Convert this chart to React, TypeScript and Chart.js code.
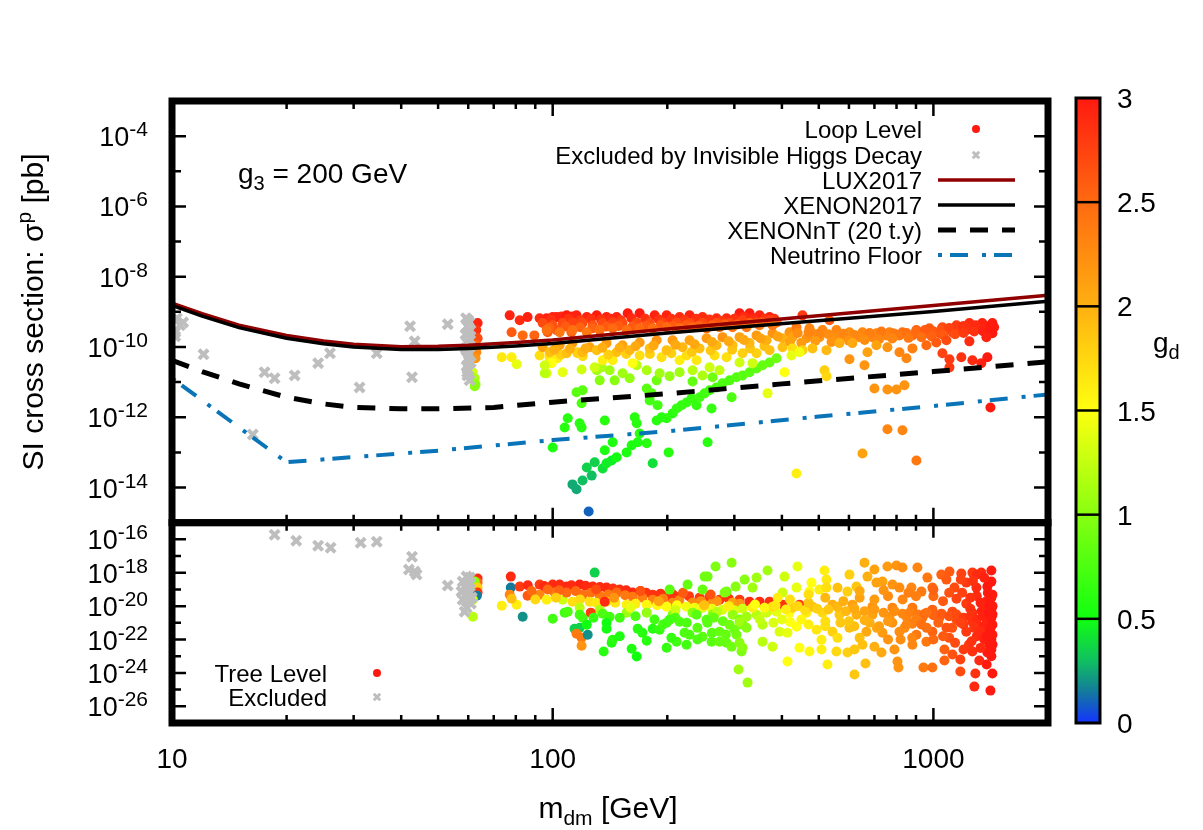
import React, { useEffect, useRef } from 'react';
import { Chart, registerables } from 'chart.js';

Chart.register(...registerables);

const FONT = '"Liberation Sans", Arial, Helvetica, sans-serif';

// ---- axes ----
const massRange = [10, 2000];
const loopExpRange = [-15, -3]; // log10(sigma / pb), upper panel
const treeExpRange = [-27, -15]; // lower panel
const massLabels = [10, 100, 1000];
const massMinor = [20, 30, 40, 50, 60, 70, 80, 90, 200, 300, 400, 500, 600, 700, 800, 900, 2000];
const loopExpLabels = [-14, -12, -10, -8, -6, -4];
const treeExpLabels = [-26, -24, -22, -20, -18, -16];
const gdLabels = [0, 0.5, 1, 1.5, 2, 2.5, 3];

// ---- experimental limits: [mass GeV, log10 sigma] ----
const lux2017 = [
  [10, -8.75], [12, -9.05], [15, -9.38], [20, -9.67], [25, -9.83], [30, -9.92], [40, -9.99],
  [50, -9.98], [60, -9.95], [80, -9.87], [100, -9.8], [200, -9.49], [420, -9.18], [1000, -8.82], [2000, -8.53],
];
const xenon2017 = [
  [10, -8.82], [12, -9.12], [15, -9.45], [20, -9.75], [25, -9.91], [30, -10.0], [40, -10.07],
  [50, -10.07], [60, -10.04], [80, -9.97], [100, -9.9], [200, -9.6], [420, -9.32], [1000, -8.99], [2000, -8.7],
];
const xenonNT = [
  [10, -10.38], [12, -10.7], [15, -11.05], [20, -11.43], [25, -11.62], [30, -11.72], [40, -11.76],
  [50, -11.76], [70, -11.72], [100, -11.57], [200, -11.33], [400, -11.05], [1000, -10.7], [2000, -10.42],
];
const neutrinoFloor = [
  [10, -10.89], [20, -13.28], [50, -12.95], [100, -12.65], [200, -12.4], [500, -11.98], [1000, -11.68], [2000, -11.35],
];

// ---- loop level scan: [mass GeV, log10 sigma, g_d] ----
const loopLevel = [
  [63.5, -9.32, 2.95], [63.0, -9.52, 2.85], [63.5, -9.75, 2.7], [63.0, -9.95, 2.5], [63.0, -10.15, 2.3], [62.7, -10.32, 2.2],
  [61.6, -10.72, 1.3], [62.4, -10.89, 1.15], [62.7, -11.06, 1.05], [62.4, -11.12, 1.0],
  [77.1, -9.10, 2.95], [81.9, -9.24, 2.9], [85.9, -9.15, 2.95], [92.4, -9.18, 2.9], [100, -9.15, 2.95], [105.5, -9.13, 2.9], [112.7, -9.13, 2.95],
  [78.0, -9.58, 2.6], [83.4, -9.67, 2.5], [89.5, -9.67, 2.55], [97.0, -9.58, 2.6], [102.4, -9.52, 2.6], [112.0, -9.58, 2.55],
  [73.5, -10.29, 1.65], [78.0, -10.29, 1.6], [80.4, -10.49, 1.4], [92.4, -10.24, 1.7], [98.2, -10.29, 1.65], [103.0, -10.32, 1.6],
  [96.4, -10.75, 1.35], [106.2, -10.72, 1.4], [116.2, -10.18, 1.75], [99.4, -10.46, 1.5], [95.3, -10.75, 1.2], [115.5, -11.29, 0.8],
  // low branch
  [124.3, -14.68, 0.1], [112.7, -13.91, 0.25], [115.5, -14.05, 0.25], [119.8, -13.8, 0.3], [126.6, -13.66, 0.3], [128.9, -13.28, 0.35],
  [122.9, -13.43, 0.35], [135.3, -13.46, 0.4], [138.5, -13.31, 0.45], [142.8, -13.23, 0.45], [147.2, -13.14, 0.5], [137.0, -12.94, 0.55],
  [143.7, -12.71, 0.55], [156.4, -13.0, 0.55], [161.2, -12.8, 0.55], [167.2, -12.71, 0.55], [176.6, -12.74, 0.6], [169.2, -12.46, 0.6],
  [166.2, -12.17, 0.6], [164.2, -12.0, 0.6], [183.1, -13.31, 0.4], [201.6, -13.0, 0.6], [255.2, -12.71, 0.6], [100, -12.86, 0.55],
  [137.0, -12.09, 0.6], [117.7, -12.17, 0.6], [119.1, -12.29, 0.6], [107.5, -12.29, 0.6], [109.5, -12.03, 0.6], [119.1, -11.6, 0.75],
  [119.8, -11.23, 0.8], [187.5, -12.09, 0.6], [193.2, -12.0, 0.6], [199.2, -12.03, 0.62], [206.5, -11.89, 0.62], [211.6, -11.75, 0.65],
  [218.0, -11.66, 0.65], [224.7, -11.58, 0.65], [231.6, -11.46, 0.68], [238.7, -11.66, 0.65], [243.1, -11.43, 0.7], [250.6, -11.32, 0.7],
  [261.4, -11.75, 0.65], [258.3, -11.23, 0.72], [269.4, -11.15, 0.72], [279.3, -11.03, 0.75], [291.5, -10.95, 0.75], [304.0, -10.86, 0.78],
  [315.3, -10.81, 0.8], [328.9, -10.72, 0.8], [343.1, -10.61, 0.82], [355.8, -10.52, 0.85], [371.2, -10.44, 0.85], [387.2, -10.32, 0.9],
  [295.1, -11.43, 0.75], [233.0, -10.98, 0.85], [263.0, -10.86, 0.9], [179.8, -11.52, 0.7], [188.6, -11.66, 0.7], [176.6, -11.18, 0.8],
  [182.0, -11.32, 0.8], [187.5, -10.95, 0.9],
  // yellow-green
  [145.4, -10.95, 1.0], [132.9, -10.95, 1.0], [130.5, -10.66, 1.1], [134.5, -10.58, 1.15], [141.1, -10.66, 1.1], [152.6, -10.75, 1.1],
  [159.3, -10.89, 1.05], [166.2, -10.52, 1.2], [176.6, -10.66, 1.15], [190.9, -10.75, 1.1], [202.8, -10.83, 1.05], [215.4, -10.72, 1.1],
  [233.0, -10.66, 1.2], [247.5, -10.81, 1.15], [258.3, -10.58, 1.3], [274.3, -10.66, 1.25], [309.6, -10.44, 1.3], [334.9, -10.46, 1.3],
  [366.7, -11.32, 1.4], [406.4, -10.72, 1.5], [95.3, -10.52, 1.3], [119.1, -10.64, 1.3], [128.9, -10.58, 1.3],
  // yellow
  [116.2, -10.15, 1.8], [135.3, -10.38, 1.6], [143.7, -10.38, 1.6], [162.2, -10.46, 1.5], [169.2, -10.24, 1.7], [193.2, -10.29, 1.7],
  [215.4, -10.38, 1.6], [224.7, -10.24, 1.7], [238.7, -10.38, 1.65], [266.2, -10.24, 1.7], [286.2, -10.29, 1.7], [315.3, -10.18, 1.8],
  [343.1, -10.18, 1.8], [371.2, -10.09, 1.9], [401.5, -10.01, 1.9],
  [105, -10.22, 1.8], [120, -10.26, 1.75], [140, -10.22, 1.8], [156, -10.2, 1.8], [180, -10.2, 1.8], [205, -10.18, 1.8],
  [232, -10.14, 1.85], [260, -10.1, 1.85], [296, -10.08, 1.85], [330, -10.04, 1.85], [360, -9.98, 1.9],
  // orange, below the limit lines
  [94.1, -10.01, 2.1], [104.3, -9.95, 2.1], [112.7, -9.89, 2.15], [125.1, -10.01, 2.1], [138.5, -9.89, 2.15], [152.6, -9.95, 2.1],
  [169.2, -9.87, 2.15], [187.5, -9.81, 2.2], [206.5, -9.81, 2.15], [228.8, -9.81, 2.1], [253.6, -9.75, 2.15], [279.3, -9.72, 2.2],
  [309.6, -9.72, 2.1], [343.1, -9.67, 2.15], [378.0, -9.61, 2.2], [418.8, -9.58, 2.2],
  [98.2, -10.15, 1.9], [108.8, -10.18, 1.9], [119.8, -10.15, 1.95], [130.5, -10.09, 1.9], [147.2, -10.15, 1.9], [159.3, -10.09, 1.95],
  [179.8, -10.04, 1.9], [199.2, -10.09, 1.9], [219.3, -10.01, 1.95], [243.1, -10.04, 1.9], [269.4, -9.95, 1.95], [296.8, -9.95, 1.9],
  [328.9, -9.89, 1.95], [364.5, -9.81, 2.0], [401.5, -9.75, 2.0],
  [101, -10.08, 2.0], [111, -10.06, 2.0], [122, -10.04, 2.0], [135, -10.02, 2.0], [150, -10.02, 2.0], [165, -9.98, 2.05],
  [184, -9.96, 2.05], [210, -9.94, 2.05], [236, -9.92, 2.05], [262, -9.86, 2.05], [290, -9.84, 2.05], [318, -9.8, 2.05],
  [352, -9.76, 2.1], [390, -9.7, 2.1],
  // red band, above the limit lines
  [96.4, -9.18, 2.95], [102.4, -9.15, 2.95], [108.8, -9.1, 3.0], [115.5, -9.1, 2.95], [122.9, -9.15, 2.95], [130.5, -9.1, 3.0],
  [138.5, -9.15, 2.95], [147.2, -9.15, 2.95], [157.4, -9.04, 3.0], [169.2, -9.04, 3.0], [185.3, -9.1, 2.95], [199.2, -9.1, 2.95],
  [215.4, -9.15, 2.9], [228.8, -9.1, 2.95], [247.5, -9.15, 2.9], [269.4, -9.18, 2.9], [286.2, -9.18, 2.9], [309.6, -9.04, 3.0],
  [328.9, -9.04, 3.0], [349.4, -9.1, 2.95], [371.2, -9.15, 2.95],
  [99, -9.22, 2.85], [110, -9.2, 2.85], [118, -9.24, 2.8], [126, -9.2, 2.85], [134, -9.22, 2.85], [142, -9.2, 2.9],
  [151, -9.24, 2.8], [161, -9.18, 2.9], [175, -9.2, 2.85], [190, -9.22, 2.85], [205, -9.2, 2.85], [222, -9.24, 2.8],
  [238, -9.2, 2.85], [258, -9.22, 2.85], [278, -9.26, 2.8], [300, -9.2, 2.85], [318, -9.14, 2.9], [336, -9.18, 2.9],
  [360, -9.2, 2.85], [382, -9.2, 2.85],
  [94.1, -9.32, 2.7], [100, -9.38, 2.65], [106.2, -9.32, 2.7], [112.7, -9.3, 2.75], [119.8, -9.32, 2.7], [127.4, -9.38, 2.65],
  [135.3, -9.32, 2.7], [143.7, -9.3, 2.75], [152.6, -9.32, 2.7], [166.2, -9.3, 2.7], [179.8, -9.32, 2.7], [194.4, -9.3, 2.75],
  [211.6, -9.3, 2.7], [228.8, -9.32, 2.7], [247.5, -9.32, 2.7], [269.4, -9.32, 2.65], [291.5, -9.32, 2.7], [315.3, -9.24, 2.75],
  [343.1, -9.3, 2.7], [371.2, -9.24, 2.75],
  [98, -9.45, 2.55], [108, -9.42, 2.6], [118, -9.44, 2.55], [127, -9.47, 2.55], [138, -9.42, 2.6], [149, -9.4, 2.6],
  [162, -9.42, 2.6], [176, -9.4, 2.6], [192, -9.38, 2.6], [207, -9.4, 2.6], [224, -9.38, 2.6], [242, -9.4, 2.55],
  [262, -9.38, 2.55], [283, -9.36, 2.55], [305, -9.36, 2.55], [330, -9.32, 2.55], [356, -9.3, 2.55], [388, -9.3, 2.5],
  [96.4, -9.52, 2.45], [104.3, -9.58, 2.4], [112.7, -9.52, 2.45], [122.9, -9.58, 2.4], [132.9, -9.52, 2.45], [143.7, -9.47, 2.5],
  [156.4, -9.52, 2.45], [169.2, -9.47, 2.5], [183.1, -9.47, 2.45], [199.2, -9.44, 2.5], [215.4, -9.47, 2.45], [233.0, -9.44, 2.5],
  [253.6, -9.47, 2.45], [274.3, -9.44, 2.45], [296.8, -9.44, 2.4], [323.0, -9.44, 2.4], [349.4, -9.38, 2.4], [378.0, -9.38, 2.4],
  [436.9, -13.6, 1.6],
  // heavy masses
  [453.0, -9.1, 2.8], [533.3, -9.24, 2.6], [436.9, -9.44, 2.4], [472.6, -9.47, 2.3], [511.3, -9.52, 2.3], [556.3, -9.52, 2.3],
  [601.9, -9.58, 2.25], [651.2, -9.58, 2.3], [708.5, -9.61, 2.3], [766.5, -9.58, 2.35], [829.3, -9.58, 2.45], [902.4, -9.52, 2.55],
  [976.1, -9.47, 2.6], [1056, -9.44, 2.7], [1150, -9.38, 2.8], [1243, -9.32, 2.9], [1344, -9.32, 2.95], [1429, -9.32, 3.0],
  [426.5, -9.72, 2.1], [464.1, -9.75, 2.2], [502.1, -9.72, 2.2], [543.1, -9.75, 2.2], [591.1, -9.72, 2.2], [639.5, -9.72, 2.25],
  [691.6, -9.72, 2.3], [752.7, -9.67, 2.3], [814.4, -9.67, 2.4], [880.8, -9.67, 2.5], [958.5, -9.61, 2.55], [1037, -9.61, 2.65],
  [1122, -9.58, 2.75], [1220, -9.52, 2.85], [1320, -9.47, 2.9], [1403, -9.52, 2.95], [1429, -9.61, 3.0],
  [481.2, -9.61, 2.25], [566.7, -9.67, 2.25], [667.0, -9.67, 2.3], [780.5, -9.61, 2.35], [919.0, -9.58, 2.5], [1082, -9.52, 2.65],
  [1266, -9.44, 2.85], [1444, -9.44, 3.0],
  [440, -9.6, 2.25], [470, -9.58, 2.3], [500, -9.62, 2.3], [530, -9.64, 2.25], [580, -9.62, 2.3], [620, -9.66, 2.3],
  [680, -9.6, 2.35], [730, -9.56, 2.4], [790, -9.62, 2.4], [850, -9.6, 2.45], [900, -9.56, 2.5], [950, -9.52, 2.6],
  [1000, -9.55, 2.6], [1050, -9.5, 2.65], [1100, -9.46, 2.75], [1160, -9.48, 2.8], [1200, -9.4, 2.85], [1290, -9.38, 2.9],
  [1370, -9.4, 2.95], [1420, -9.38, 3.0],
  [420, -9.85, 2.1], [450, -9.88, 2.15], [490, -9.82, 2.15], [540, -9.86, 2.2], [600, -9.82, 2.2], [660, -9.8, 2.25],
  [720, -9.78, 2.3], [780, -9.76, 2.3], [860, -9.74, 2.4], [930, -9.72, 2.45], [990, -9.7, 2.55], [1060, -9.66, 2.6],
  [1140, -9.64, 2.7], [1200, -9.6, 2.8], [1280, -9.56, 2.85], [1350, -9.55, 2.95], [1410, -9.5, 3.0],
  [426.5, -10.04, 1.7], [453.0, -10.09, 1.8], [481.2, -10.04, 1.9], [523.8, -10.09, 1.95], [566.7, -9.89, 2.0], [612.9, -9.89, 2.05],
  [671.1, -10.15, 2.1], [708.5, -9.95, 2.1], [757.3, -10.01, 2.2], [814.4, -10.15, 2.3], [849.6, -10.32, 2.3], [880.8, -10.04, 2.35],
  [958.5, -9.95, 2.5], [1018, -9.87, 2.6], [1082, -9.81, 2.7], [1056, -10.18, 2.75], [1102, -10.35, 2.8], [1184, -10.29, 2.85],
  [1243, -9.84, 2.9], [1266, -10.38, 2.9], [1336, -10.46, 2.95], [1378, -9.72, 2.95], [1386, -10.29, 3.0], [1102, -10.58, 2.8],
  [601.9, -10.35, 2.2], [659.1, -10.52, 2.2], [517.5, -10.66, 1.8], [523.8, -10.83, 1.75], [700.0, -11.18, 2.2], [757.3, -11.21, 2.2],
  [799.8, -11.21, 2.2], [839.4, -11.09, 2.2], [757.3, -12.34, 2.3], [829.3, -12.37, 2.3], [651.2, -13.03, 2.1], [902.4, -13.23, 2.4],
  [1412, -11.72, 3.0], [423.9, -10.24, 1.4], [444.9, -10.15, 1.45],
];

// ---- points excluded by invisible Higgs decay (upper panel): [mass, log10 sigma] ----
const loopExcluded = [
  [10.3, -9.18], [10.5, -9.38], [10.2, -9.58], [10.7, -9.3], [10.2, -9.7], [12.1, -10.21], [16.3, -12.49], [17.5, -10.72],
  [18.6, -10.89], [21.0, -10.81], [24.2, -10.46], [26.0, -10.18], [31.1, -11.15], [34.5, -10.18], [42.2, -9.41], [43.4, -9.84],
  [42.7, -10.86], [53.0, -9.35],
  [59.2, -9.18], [60.4, -9.3], [59.6, -9.41], [60.8, -9.52], [59.0, -9.64], [60.2, -9.75], [59.5, -9.87], [60.6, -9.98],
  [59.3, -10.09], [60.3, -10.21], [59.8, -10.32], [60.9, -10.44], [59.4, -10.55], [60.1, -10.66], [59.7, -10.81], [60.5, -10.95],
  [60.0, -9.24], [59.9, -9.58], [60.7, -9.81], [59.1, -10.04], [60.2, -10.38], [59.6, -10.72],
];

// ---- tree level scan (lower panel): [mass GeV, log10 sigma, g_d] ----
const treeLevel = [
  [63.5, -18.35, 2.9], [63.5, -18.59, 2.5], [62.4, -18.53, 1.0], [63.5, -18.89, 1.8], [63.5, -19.19, 2.8], [63.2, -19.37, 0.15],
  [61.7, -19.61, 1.3], [61.7, -20.63, 1.2],
  [77.6, -18.23, 2.9], [77.6, -18.89, 0.15], [73.5, -19.97, 1.6], [80.4, -19.91, 1.6], [83.4, -20.63, 0.2], [77.1, -19.31, 2.3],
  [78.0, -19.55, 1.9], [81.9, -18.83, 2.8], [85.9, -19.37, 2.6], [92.4, -18.71, 2.8], [92.4, -19.31, 2.3], [96.4, -19.61, 1.6],
  [100, -18.71, 2.9], [104.3, -18.71, 2.9], [101.2, -19.19, 2.4], [106.2, -19.61, 1.3], [100, -20.75, 0.7], [128.9, -17.99, 0.35],
  // red / orange / yellow rows
  [108.8, -18.83, 2.9], [117.7, -18.71, 2.95], [127.4, -18.83, 2.9], [138.5, -18.89, 2.9], [149.9, -19.01, 2.85], [162.2, -19.19, 2.9],
  [183.1, -19.31, 2.85], [199.2, -19.37, 2.85], [215.4, -19.43, 2.8], [243.1, -19.49, 2.8], [274.3, -19.61, 2.85], [309.6, -19.61, 2.8],
  [86, -18.75, 2.9], [95, -18.8, 2.9], [112, -18.75, 2.9], [122, -18.78, 2.9], [133, -18.85, 2.9], [144, -18.95, 2.85],
  [156, -19.05, 2.9], [170, -19.1, 2.85], [176, -19.2, 2.85], [192, -19.25, 2.85], [207, -19.3, 2.85], [228, -19.4, 2.8],
  [258, -19.45, 2.8], [290, -19.55, 2.85],
  [108.8, -19.19, 2.5], [119.8, -19.31, 2.45], [132.9, -19.37, 2.4], [147.2, -19.19, 2.5], [162.2, -19.43, 2.4], [183.1, -19.61, 2.35],
  [206.5, -19.79, 2.3], [233.0, -19.79, 2.3], [263.0, -19.79, 2.2], [296.8, -19.79, 2.1],
  [88, -19.1, 2.5], [97, -19.0, 2.5], [104, -19.05, 2.55], [115, -19.1, 2.5], [126, -19.2, 2.45], [140, -19.3, 2.4],
  [155, -19.35, 2.4], [172, -19.5, 2.35], [195, -19.55, 2.35], [215, -19.65, 2.3], [245, -19.7, 2.25], [270, -19.7, 2.2],
  [310, -19.85, 2.2],
  [112.7, -19.73, 1.7], [125.1, -19.73, 1.7], [138.5, -19.73, 1.65], [156.4, -19.91, 1.6], [176.6, -19.91, 1.55], [199.2, -20.03, 1.5],
  [224.7, -20.03, 1.45], [247.5, -20.09, 1.4], [279.3, -20.21, 1.35], [315.3, -20.15, 1.3],
  [90, -19.6, 1.75], [102, -19.5, 1.8], [118, -19.6, 1.75], [130, -19.8, 1.65], [146, -19.8, 1.65], [165, -19.85, 1.6],
  [188, -19.95, 1.55], [212, -19.95, 1.5], [236, -20.1, 1.45], [262, -20.15, 1.4], [300, -20.25, 1.35],
  [117.7, -20.09, 1.2], [132.9, -20.21, 1.15], [156.4, -20.39, 1.1], [176.6, -20.39, 1.05], [206.5, -20.51, 1.0], [233.0, -20.39, 1.0],
  [263.0, -20.51, 1.0], [296.8, -20.51, 1.05],
  [130, -19.0, 2.7], [170, -19.1, 2.65], [220, -19.2, 2.6], [260, -19.3, 2.65], [145, -19.5, 2.2], [190, -19.7, 2.1],
  [250, -19.95, 1.9], [290, -20.0, 1.6], [160, -20.1, 1.4], [210, -20.25, 1.3], [270, -20.35, 1.2],
  // greens
  [107.5, -20.39, 0.7], [109.5, -20.33, 0.75], [117.7, -20.51, 0.7], [119.8, -20.69, 0.7], [125.9, -20.39, 2.8], [135.3, -20.45, 0.75],
  [141.1, -20.63, 0.7], [138.5, -20.99, 0.5], [138.5, -21.35, 0.5], [142.8, -22.19, 0.55], [143.7, -22.01, 0.6], [136.1, -22.72, 0.6],
  [161.2, -22.55, 0.55], [166.2, -23.02, 0.5], [176.6, -22.07, 0.6], [183.1, -21.35, 0.6], [167.2, -21.35, 0.6], [190.9, -21.41, 0.65],
  [199.2, -20.99, 0.7], [199.2, -22.49, 0.65], [211.6, -22.13, 0.7], [224.7, -22.31, 0.7], [222.0, -21.59, 0.75], [228.8, -21.71, 0.75],
  [247.5, -21.83, 0.8], [261.4, -22.13, 0.8], [274.3, -22.13, 0.85], [286.2, -22.19, 0.85], [295.1, -22.43, 0.9], [313.4, -22.72, 0.95],
  [307.7, -23.8, 1.1], [325.0, -24.58, 1.1],
  [150, -20.7, 0.7], [165, -20.6, 0.75], [185, -20.8, 0.7], [195, -21.1, 0.7], [210, -20.7, 0.75], [225, -21.0, 0.75],
  [240, -21.3, 0.8], [255, -21.0, 0.8], [265, -20.7, 0.85], [280, -20.9, 0.85], [300, -21.4, 0.9], [310, -20.8, 0.95],
  [172, -21.6, 0.6], [205, -21.9, 0.65], [240, -22.0, 0.75], [262, -21.6, 0.8], [285, -21.7, 0.85], [150, -21.8, 0.55],
  [128, -20.7, 0.65],
  [114.1, -21.35, 0.35], [117.7, -21.29, 0.35], [122.9, -21.11, 0.5], [115.5, -21.65, 2.4], [119.1, -21.89, 2.4], [119.1, -22.37, 2.2],
  [123.6, -21.71, 0.2], [137.0, -19.73, 2.9],
  [202.8, -19.01, 0.8], [226.1, -18.71, 0.85], [247.5, -19.01, 0.85], [250.6, -18.23, 0.9], [255.2, -18.23, 0.9], [267.8, -17.63, 0.95],
  [295.1, -17.4, 1.0], [286.2, -19.13, 0.9], [302.4, -18.83, 1.0], [319.2, -18.41, 1.0], [282.8, -19.19, 0.95],
  [202.8, -20.81, 0.7], [215.4, -20.93, 0.75], [238.7, -20.51, 0.8], [253.6, -20.81, 0.8], [274.3, -21.53, 0.85], [291.5, -21.11, 0.9],
  [304.0, -21.71, 0.9], [315.3, -21.11, 0.95],
  // heavy masses, upper scatter
  [366.7, -17.87, 1.1], [439.6, -17.63, 1.4], [517.5, -17.87, 1.6], [523.8, -18.41, 1.65], [601.9, -18.11, 1.8], [659.1, -17.4, 2.0],
  [700.0, -17.81, 2.1], [757.3, -17.63, 2.15], [799.8, -17.57, 2.2], [829.3, -17.69, 2.25], [907.9, -17.69, 2.3], [964.3, -18.29, 2.4],
  [1049, -18.11, 2.55], [1102, -17.93, 2.6], [1184, -18.05, 2.75], [1266, -17.99, 2.8], [1336, -17.99, 2.9], [1420, -17.87, 3.0],
  [1420, -18.53, 3.0], [343.1, -18.29, 1.1], [334.9, -18.89, 1.1], [406.4, -18.23, 1.3], [401.5, -19.19, 1.3], [436.9, -18.89, 1.4],
  [478.4, -18.59, 1.5], [472.6, -19.13, 1.5], [502.1, -19.01, 1.6], [523.8, -18.89, 1.7], [594.7, -19.13, 1.8], [627.9, -18.83, 1.85],
  [671.1, -18.23, 2.0], [708.5, -18.59, 2.1], [734.9, -18.53, 2.1], [780.5, -18.71, 2.2], [814.4, -18.89, 2.25], [875.5, -18.89, 2.3],
  [930.2, -19.13, 2.4], [994.0, -18.89, 2.5], [1082, -18.41, 2.6], [1136, -18.89, 2.7], [1220, -18.59, 2.8], [1297, -18.89, 2.9],
  [1386, -18.83, 3.0], [1429, -19.31, 3.0],
  [1400, -18.6, 3.0], [1300, -18.1, 2.9], [1180, -18.4, 2.75], [1360, -18.3, 2.95], [1270, -18.5, 2.85],
  // heavy masses, band
  [328.9, -19.73, 2.9], [349.4, -19.73, 2.9], [371.2, -19.73, 2.85], [401.5, -19.91, 2.85], [444.9, -19.91, 2.8],
  [309.6, -20.93, 1.1], [323.0, -20.63, 1.1], [343.1, -20.51, 1.2], [364.5, -20.39, 1.3], [387.2, -20.33, 1.4], [418.8, -20.39, 1.5],
  [464.1, -20.39, 1.6], [511.3, -20.39, 1.75], [566.7, -20.51, 1.85], [627.9, -20.51, 2.0], [691.6, -20.51, 2.1], [766.5, -20.63, 2.2],
  [849.6, -20.63, 2.3], [936.0, -20.69, 2.45], [1037, -20.69, 2.55], [1150, -20.81, 2.7], [1266, -20.93, 2.85], [1403, -20.99, 3.0],
  [334.9, -20.09, 1.6], [378.0, -20.03, 1.7], [426.5, -20.09, 1.8], [481.2, -20.03, 1.9], [543.1, -19.91, 2.0], [612.9, -19.91, 2.1],
  [691.6, -20.03, 2.2], [780.5, -20.09, 2.3], [880.8, -20.09, 2.4], [994.0, -20.21, 2.55], [1122, -20.33, 2.7], [1266, -20.39, 2.85],
  [1386, -20.39, 3.0],
  [340, -19.9, 1.5], [360, -20.1, 1.55], [385, -19.95, 1.65], [410, -20.2, 1.6], [440, -20.0, 1.75], [460, -20.25, 1.7],
  [495, -20.15, 1.8], [530, -20.2, 1.85], [560, -20.05, 1.95], [590, -20.3, 1.95], [620, -20.15, 2.05], [660, -20.3, 2.1],
  [700, -20.2, 2.15], [740, -20.4, 2.2], [790, -20.3, 2.25], [830, -20.45, 2.3], [870, -20.35, 2.35], [910, -20.5, 2.4],
  [950, -20.45, 2.5], [1000, -20.55, 2.55], [1050, -20.45, 2.6], [1100, -20.6, 2.65], [1150, -20.5, 2.7], [1200, -20.7, 2.8],
  [1250, -20.6, 2.85], [1300, -20.8, 2.9], [1340, -20.3, 2.95], [1380, -21.0, 2.95], [1420, -20.7, 3.0],
  [323.0, -21.29, 1.0], [355.8, -21.11, 1.2], [394.3, -21.53, 1.35], [436.9, -21.23, 1.5], [493.3, -21.41, 1.65], [543.1, -21.53, 1.8],
  [601.9, -21.29, 1.9], [667.0, -21.53, 2.05], [734.9, -21.59, 2.15], [814.4, -21.53, 2.25], [902.4, -21.71, 2.4], [994.0, -21.53, 2.55],
  [1082, -21.29, 2.65], [1220, -21.53, 2.8], [1344, -21.23, 2.95], [1429, -21.11, 3.0],
  [350, -20.8, 1.25], [380, -21.0, 1.35], [420, -20.95, 1.5], [470, -21.1, 1.6], [520, -21.2, 1.7], [570, -21.0, 1.85],
  [620, -21.2, 1.9], [660, -20.85, 2.0], [710, -21.3, 2.05], [780, -21.0, 2.2], [840, -21.3, 2.25], [880, -21.05, 2.35],
  [960, -21.3, 2.45], [1030, -21.0, 2.55], [1120, -21.3, 2.65], [1200, -21.1, 2.8], [1280, -21.3, 2.85], [1400, -21.5, 3.0],
  [420, -19.6, 1.7], [470, -19.8, 1.85], [520, -19.5, 1.95], [580, -19.7, 2.0], [640, -19.5, 2.1], [700, -19.6, 2.15],
  [760, -19.4, 2.25], [830, -19.6, 2.3], [450, -20.8, 1.55], [520, -20.9, 1.7], [600, -20.9, 1.85], [680, -21.0, 2.0],
  [760, -20.9, 2.15], [850, -21.1, 2.3], [400, -20.8, 1.4], [560, -21.9, 1.7], [640, -21.9, 1.9], [720, -21.2, 2.1],
  [820, -22.0, 2.25], [900, -20.8, 2.35], [930, -21.1, 2.45],
  [1150, -19.55, 2.75], [1220, -19.85, 2.8], [1300, -19.4, 2.9], [1380, -19.7, 2.95], [1430, -20.0, 3.0], [1250, -20.15, 2.85],
  [1350, -20.6, 2.95], [1180, -21.0, 2.75], [1300, -21.8, 2.9], [1420, -22.0, 3.0], [1400, -20.45, 3.0], [1060, -19.7, 2.6],
  [1100, -21.9, 2.65], [1240, -22.3, 2.8], [1330, -21.5, 2.9], [1000, -19.4, 2.5], [960, -20.4, 2.45], [900, -19.4, 2.35],
  [1390, -19.2, 3.0], [1430, -20.5, 3.0], [1190, -19.2, 2.75], [1410, -21.4, 3.0], [1360, -22.0, 2.95],
  [1390, -19.9, 3.0], [1330, -19.8, 2.95], [1250, -19.5, 2.85], [1100, -19.2, 2.65], [1000, -19.0, 2.55], [860, -19.2, 2.35],
  [740, -19.05, 2.2], [640, -19.1, 2.05], [560, -18.9, 1.9], [470, -19.3, 1.7], [390, -19.5, 1.6], [1420, -19.5, 3.0],
  [1420, -20.2, 3.0], [1380, -21.8, 3.0], [1430, -22.3, 3.0],
  // heavy masses, lower scatter
  [309.6, -22.19, 1.0], [315.3, -22.49, 1.0], [355.8, -22.13, 1.2], [378.0, -22.43, 1.3], [413.8, -21.59, 1.4], [444.9, -22.49, 1.5],
  [472.6, -22.72, 1.55], [508.2, -22.6, 1.6], [508.2, -22.01, 1.6], [556.3, -22.72, 1.75], [594.7, -22.78, 1.8], [620.4, -22.6, 1.85],
  [651.2, -22.31, 1.9], [700.0, -22.43, 2.0], [730.5, -22.78, 2.05], [790.1, -22.6, 2.2], [880.8, -22.31, 2.3], [958.5, -22.13, 2.4],
  [1069, -22.6, 2.55], [1122, -22.9, 2.65], [1177, -23.2, 2.75], [1266, -22.72, 2.85], [1320, -23.26, 2.9], [1386, -22.78, 3.0],
  [1403, -22.31, 3.0], [1429, -21.71, 3.0],
  [1000, -22.0, 2.5], [1140, -22.2, 2.7], [1260, -22.1, 2.85], [1330, -22.5, 2.9], [1420, -22.6, 3.0], [1380, -23.5, 3.0],
  [1420, -23.0, 3.0], [1200, -22.6, 2.8], [1060, -21.8, 2.6], [880, -21.9, 2.3], [760, -22.0, 2.2],
  [413.8, -23.32, 1.5], [527.0, -23.5, 1.6], [620.4, -24.1, 1.85], [663.1, -23.44, 1.9], [804.6, -23.32, 2.2], [809.5, -23.68, 2.2],
  [941.6, -23.68, 2.4], [994.0, -23.68, 2.45], [1069, -23.26, 2.55], [1177, -23.92, 2.7], [1289, -24.04, 2.85], [1429, -24.04, 3.0],
  [1281, -24.82, 2.9], [1412, -25.06, 3.0],
];

// ---- excluded points (lower panel): [mass, log10 sigma] ----
const treeExcluded = [
  [18.6, -15.72], [21.2, -16.08], [24.2, -16.38], [26.1, -16.5], [31.3, -16.2], [34.5, -16.14], [42.7, -17.04], [41.9, -17.81],
  [43.9, -18.11], [43.4, -17.93], [53.0, -18.77],
  [59.4, -18.23], [58.0, -18.53], [60.6, -18.59], [58.7, -18.83], [59.8, -19.01], [57.6, -19.13], [60.6, -19.19], [59.4, -19.43],
  [58.0, -19.61], [59.8, -19.73], [61.3, -19.49], [59.4, -20.09], [58.7, -20.33], [60.6, -18.29], [59.1, -19.31], [61.0, -19.85],
];

// ---- colour map for g_d ----
const palette: [number, string][] = [
  [0, '#1433ff'], [0.15, '#137a9c'], [0.3, '#10c060'], [0.5, '#10ff10'], [1.0, '#88ff10'],
  [1.5, '#ffff10'], [2.0, '#ffb010'], [2.5, '#ff6a10'], [3.0, '#ff1a10'],
];

function hexRgb(h: string) {
  return [parseInt(h.slice(1, 3), 16), parseInt(h.slice(3, 5), 16), parseInt(h.slice(5, 7), 16)];
}

function gdColor(g: number) {
  for (let i = 1; i < palette.length; i++) {
    const [g1, c1] = palette[i];
    if (g <= g1 || i === palette.length - 1) {
      const [g0, c0] = palette[i - 1];
      const t = Math.max(0, Math.min(1, (g - g0) / (g1 - g0)));
      const a = hexRgb(c0), b = hexRgb(c1);
      const m = a.map((v, k) => Math.round(v + (b[k] - v) * t));
      return `rgb(${m[0]},${m[1]},${m[2]})`;
    }
  }
  return palette[palette.length - 1][1];
}

const toXY = (rows: number[][]) => rows.map((r) => ({ x: r[0], y: Math.pow(10, r[1]) }));

function richText(ctx: CanvasRenderingContext2D, parts: [string, number, number][], x: number, y: number, align: 'left' | 'center' | 'right') {
  let total = 0;
  const widths = parts.map(([t, size]) => {
    ctx.font = `${size}px ${FONT}`;
    const w = ctx.measureText(t).width;
    total += w;
    return w;
  });
  let cx = align === 'left' ? x : align === 'center' ? x - total / 2 : x - total;
  ctx.textAlign = 'left';
  ctx.textBaseline = 'alphabetic';
  parts.forEach(([t, size, dy], i) => {
    ctx.font = `${size}px ${FONT}`;
    ctx.fillText(t, cx, y + dy);
    cx += widths[i];
  });
}

function drawCross(ctx: CanvasRenderingContext2D, x: number, y: number, r: number, lw: number, color: string) {
  ctx.save();
  ctx.strokeStyle = color;
  ctx.lineWidth = lw;
  ctx.beginPath();
  ctx.moveTo(x - r, y - r);
  ctx.lineTo(x + r, y + r);
  ctx.moveTo(x + r, y - r);
  ctx.lineTo(x - r, y + r);
  ctx.stroke();
  ctx.restore();
}

function drawSample(ctx: CanvasRenderingContext2D, ds: any, x0: number, x1: number, xc: number, y: number) {
  if (ds.showLine) {
    ctx.save();
    ctx.strokeStyle = ds.borderColor;
    ctx.lineWidth = ds.borderWidth;
    ctx.setLineDash(ds.borderDash || []);
    ctx.beginPath();
    ctx.moveTo(x0, y);
    ctx.lineTo(x1, y);
    ctx.stroke();
    ctx.restore();
  } else if (ds.pointStyle === 'crossRot') {
    drawCross(ctx, xc, y, 3.2, 3, ds.pointBorderColor);
  } else {
    ctx.fillStyle = gdColor(3);
    ctx.beginPath();
    ctx.arc(xc, y, 4, 0, Math.PI * 2);
    ctx.fill();
  }
}

const decorPlugin = {
  id: 'decor',
  afterDraw(chart: any) {
    const ctx: CanvasRenderingContext2D = chart.ctx;
    const { left, right } = chart.chartArea;
    const xs = chart.scales.x;
    const panels = [
      { s: chart.scales.yTop, range: loopExpRange, labels: loopExpLabels },
      { s: chart.scales.yBot, range: treeExpRange, labels: treeExpLabels },
    ];
    ctx.save();
    ctx.strokeStyle = '#000';
    ctx.fillStyle = '#000';
    ctx.lineCap = 'butt';
    // inward tick marks
    ctx.lineWidth = 2.5;
    panels.forEach(({ s, range }) => {
      ctx.beginPath();
      [...massLabels, ...massMinor].forEach((m) => {
        const px = xs.getPixelForValue(m);
        const len = massLabels.includes(m) ? 15 : 8;
        if (m > massRange[0] && m < massRange[1]) {
          ctx.moveTo(px, s.top); ctx.lineTo(px, s.top + len);
          ctx.moveTo(px, s.bottom); ctx.lineTo(px, s.bottom - len);
        }
      });
      for (let e = range[0] + 1; e < range[1]; e++) {
        const py = s.getPixelForValue(Math.pow(10, e));
        const len = e % 2 === 0 ? 14 : 9;
        ctx.moveTo(left, py); ctx.lineTo(left + len, py);
        ctx.moveTo(right, py); ctx.lineTo(right - len, py);
      }
      ctx.stroke();
    });
    // frame
    ctx.lineWidth = 7;
    panels.forEach(({ s }) => ctx.strokeRect(left, s.top, right - left, s.bottom - s.top));
    // y tick labels 10^n
    panels.forEach(({ s, labels }) => {
      labels.forEach((e) => {
        const py = s.getPixelForValue(Math.pow(10, e));
        richText(ctx, [['10', 27, 0], [String(e), 21, -10]], 148, py + 10, 'right');
      });
    });
    // axis titles
    ctx.save();
    ctx.translate(43, 312);
    ctx.rotate(-Math.PI / 2);
    richText(ctx, [['SI cross section: \u03c3', 30, 0], ['p', 21, -12], [' [pb]', 30, 0]], 0, 0, 'center');
    ctx.restore();
    richText(ctx, [['m', 30, 0], ['dm', 21, 7], [' [GeV]', 30, 0]], 608, 818, 'center');
    // annotation
    richText(ctx, [['g', 28, 0], ['3', 20, 7], [' = 200 GeV', 28, 0]], 238, 183, 'left');
    // legends
    const ds = chart.data.datasets;
    const find = (id: string) => ds.find((d: any) => d.key === id);
    const topKeys = ['loop', 'loopEx', 'lux', 'xenon', 'xenonNT', 'nu'];
    const topRows = [129, 155, 180, 205, 230, 255];
    topKeys.forEach((k, i) => {
      const d = find(k);
      ctx.fillStyle = '#000';
      richText(ctx, [[d.label, 24, 0]], 922, topRows[i] + 8.5, 'right');
      drawSample(ctx, d, 938, 1015, 976, topRows[i]);
    });
    const botKeys = ['tree', 'treeEx'];
    const botRows = [673, 697];
    botKeys.forEach((k, i) => {
      const d = find(k);
      ctx.fillStyle = '#000';
      richText(ctx, [[d.label, 24, 0]], 327, botRows[i] + 8.5, 'right');
      drawSample(ctx, d, 340, 415, 377, botRows[i]);
    });
    // colour bar
    const cbL = 1076, cbR = 1100, cbT = chart.chartArea.top - 3, cbB = chart.chartArea.bottom;
    const grad = ctx.createLinearGradient(0, cbB, 0, cbT);
    palette.forEach(([g, c]) => grad.addColorStop(g / 3, c));
    ctx.fillStyle = grad;
    ctx.fillRect(cbL, cbT, cbR - cbL, cbB - cbT);
    ctx.strokeStyle = '#000';
    ctx.lineWidth = 2.5;
    gdLabels.forEach((g) => {
      const py = cbB - (g / 3) * (cbB - cbT);
      if (g > 0 && g < 3) {
        ctx.beginPath(); ctx.moveTo(cbL, py); ctx.lineTo(cbR, py); ctx.stroke();
      }
      ctx.fillStyle = '#000';
      richText(ctx, [[String(g), 28, 0]], 1117, py + 10, 'left');
    });
    ctx.lineWidth = 3;
    ctx.strokeRect(cbL, cbT, cbR - cbL, cbB - cbT);
    ctx.fillStyle = '#000';
    richText(ctx, [['g', 28, 0], ['d', 20, 7]], 1153, 352, 'left');
    ctx.restore();
  },
};

export default function App() {
  const canvasRef = useRef<HTMLCanvasElement>(null);
  const chartRef = useRef<Chart | null>(null);

  useEffect(() => {
    if (!canvasRef.current) return;
    if (chartRef.current) chartRef.current.destroy();
    Chart.defaults.font.family = FONT;

    const lineSet = (key: string, label: string, rows: number[][], color: string, width: number, dash: number[]) => ({
      key, label, data: toXY(rows), yAxisID: 'yTop', showLine: true, borderColor: color, borderWidth: width,
      borderDash: dash, pointRadius: 0, pointHoverRadius: 0, fill: false, tension: 0,
    });
    const pointSet = (key: string, label: string, rows: number[][], axis: string) => ({
      key, label, data: toXY(rows), yAxisID: axis, showLine: false,
      pointBackgroundColor: rows.map((r) => gdColor(r[2])), pointBorderWidth: 0, pointRadius: 5, pointHoverRadius: 5,
    });
    const crossSet = (key: string, label: string, rows: number[][], axis: string) => ({
      key, label, data: toXY(rows), yAxisID: axis, showLine: false, pointStyle: 'crossRot',
      pointBorderColor: '#bebebe', pointBackgroundColor: '#bebebe', pointBorderWidth: 4, pointRadius: 6.5, pointHoverRadius: 6.5,
    });

    // first dataset is drawn on top
    const datasets: any[] = [
      lineSet('nu', 'Neutrino Floor', neutrinoFloor, '#0a74b8', 4, [4, 8, 18, 14]),
      lineSet('xenonNT', 'XENONnT (20 t.y)', xenonNT, '#000000', 5, [18, 14]),
      lineSet('xenon', 'XENON2017', xenon2017, '#000000', 3.5, []),
      lineSet('lux', 'LUX2017', lux2017, '#900000', 3.5, []),
      crossSet('treeEx', 'Excluded', treeExcluded, 'yBot'),
      pointSet('tree', 'Tree Level', treeLevel, 'yBot'),
      crossSet('loopEx', 'Excluded by Invisible Higgs Decay', loopExcluded, 'yTop'),
      pointSet('loop', 'Loop Level', loopLevel, 'yTop'),
    ];

    chartRef.current = new Chart(canvasRef.current, {
      type: 'scatter',
      data: { datasets },
      options: {
        animation: false,
        responsive: true,
        maintainAspectRatio: false,
        layout: { padding: { top: 101, right: 155, bottom: 0, left: 0 } },
        plugins: { legend: { display: false }, tooltip: { enabled: false }, title: { display: false } },
        scales: {
          x: {
            type: 'logarithmic',
            position: 'bottom',
            min: massRange[0],
            max: massRange[1],
            grid: { display: false, drawTicks: false },
            border: { display: false },
            afterBuildTicks: (scale: any) => { scale.ticks = massLabels.map((v) => ({ value: v })); },
            afterFit: (scale: any) => { scale.height = 107; },
            ticks: {
              autoSkip: false, maxRotation: 0, padding: 20, color: '#000',
              font: { size: 28 }, callback: (v: any) => String(v),
            },
          },
          yBot: {
            type: 'logarithmic',
            position: 'left',
            stack: 'panels',
            stackWeight: 200,
            min: Math.pow(10, treeExpRange[0]),
            max: Math.pow(10, treeExpRange[1]),
            grid: { display: false, drawTicks: false },
            border: { display: false },
            ticks: { display: false },
            afterFit: (scale: any) => { scale.width = 172; },
          },
          yTop: {
            type: 'logarithmic',
            position: 'left',
            stack: 'panels',
            stackWeight: 421,
            min: Math.pow(10, loopExpRange[0]),
            max: Math.pow(10, loopExpRange[1]),
            grid: { display: false, drawTicks: false },
            border: { display: false },
            ticks: { display: false },
            afterFit: (scale: any) => { scale.width = 172; },
          },
        },
      } as any,
      plugins: [decorPlugin],
    });

    return () => {
      if (chartRef.current) {
        chartRef.current.destroy();
        chartRef.current = null;
      }
    };
  }, []);

  return (
    <div style={{ position: 'absolute', left: 0, top: 0, width: 1203, height: 830, background: '#fff' }}>
      <canvas ref={canvasRef} />
    </div>
  );
}
